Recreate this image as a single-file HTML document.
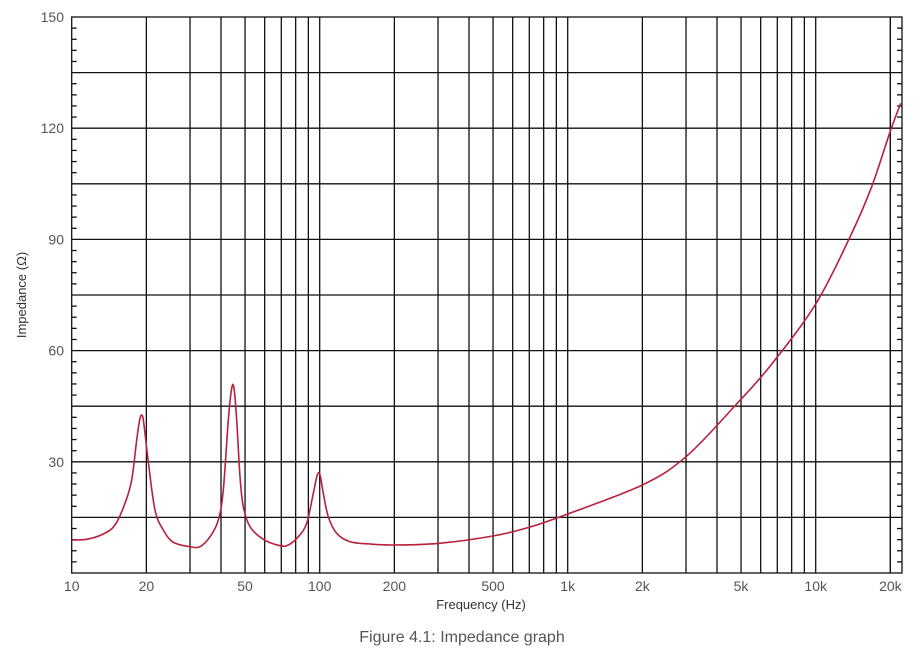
<!DOCTYPE html>
<html><head><meta charset="utf-8"><style>
body{margin:0;background:#fff;}
svg{display:block;font-family:"Liberation Sans",sans-serif;}
</style></head><body>
<svg id="s" width="920" height="658" xmlns="http://www.w3.org/2000/svg">
<g id="grid" stroke="#111" stroke-width="1.3" fill="none"></g>
<g id="lab" fill="#555" font-size="14"></g>
<path id="c" fill="none" stroke="#b8203c" stroke-width="1.6" stroke-linejoin="round"/>
<text x="481" y="609" text-anchor="middle" font-size="13" fill="#333">Frequency (Hz)</text>
<text transform="translate(26,295) rotate(-90)" text-anchor="middle" font-size="13" fill="#333">Impedance (Ω)</text>
<text x="462" y="642" text-anchor="middle" font-size="16" fill="#555">Figure 4.1: Impedance graph</text>
</svg>
<script>
var L=71.7,R=902,T=17,B=573,D=248;
function X(f){return L+Math.log10(f/10)*D}
function Y(v){return B-(v/150)*(B-T)}
var g=document.getElementById('grid'),lab=document.getElementById('lab'),h='',t='';
h+='<rect x="'+L+'" y="'+T+'" width="'+(R-L)+'" height="'+(B-T)+'"/>';
for(var v=15;v<150;v+=15)h+='<line x1="'+L+'" x2="'+R+'" y1="'+Y(v)+'" y2="'+Y(v)+'"/>';
for(var v=3;v<150;v+=3)if(v%15){h+='<line x1="'+L+'" x2="'+(L+5)+'" y1="'+Y(v)+'" y2="'+Y(v)+'"/>';h+='<line x1="'+(R-5)+'" x2="'+R+'" y1="'+Y(v)+'" y2="'+Y(v)+'"/>';}
for(var d=10;d<=10000;d*=10)for(var m=1;m<10;m++){var f=d*m;if(f==10)continue;if(f>20000)break;var x=X(f);if(x<R)h+='<line x1="'+x+'" x2="'+x+'" y1="'+T+'" y2="'+B+'"/>';}
h+='<line x1="'+X(20000)+'" x2="'+X(20000)+'" y1="'+T+'" y2="'+B+'"/>';
g.innerHTML=h;
[30,60,90,120,150].forEach(function(v){t+='<text x="64" y="'+(Y(v)+5)+'" text-anchor="end">'+v+'</text>'});
[[10,'10'],[20,'20'],[50,'50'],[100,'100'],[200,'200'],[500,'500'],[1000,'1k'],[2000,'2k'],[5000,'5k'],[10000,'10k'],[20000,'20k']].forEach(function(a){t+='<text x="'+X(a[0])+'" y="591" text-anchor="middle">'+a[1]+'</text>'});
lab.innerHTML=t;
var P=[[71.7,540],[86.7,539.3],[103.3,534],[115,525],[125,503.3],[131.7,480],[136.7,440],[140,418.3],[142.7,416.7],[145,433.3],[148.3,461.7],[155,510],[163.3,530],[173.3,542.3],[190,546.7],[200,546.7],[210,536.7],[218.3,520],[223.3,490],[228.3,420],[231.7,388.3],[234,388.3],[236.7,420],[240,476.7],[243.3,506.7],[250,526.7],[263.3,539.3],[280,545.7],[288.3,545],[298.3,536.7],[306.7,523.3],[313.3,493.3],[317.3,475],[320,475],[323.3,493.3],[328.3,516.7],[336.7,533.3],[350,541.7],[370,544],[395.6,545],[439.3,543.3],[492.9,536],[528.9,527.4],[567.7,514],[642.4,485],[686,456.7],[734.8,406],[771,365],[815.7,304],[850,237],[871.7,186.7],[890,132],[900.7,103.3]];
var p='M'+P[0][0]+' '+P[0][1];
for(var i=0;i<P.length-1;i++){var a=P[i-1]||P[i],b=P[i],c=P[i+1],d=P[i+2]||c;
p+='C'+(b[0]+(c[0]-a[0])/6).toFixed(2)+' '+(b[1]+(c[1]-a[1])/6).toFixed(2)+' '+(c[0]-(d[0]-b[0])/6).toFixed(2)+' '+(c[1]-(d[1]-b[1])/6).toFixed(2)+' '+c[0]+' '+c[1];}
document.getElementById('c').setAttribute('d',p);
</script>
</body></html>
